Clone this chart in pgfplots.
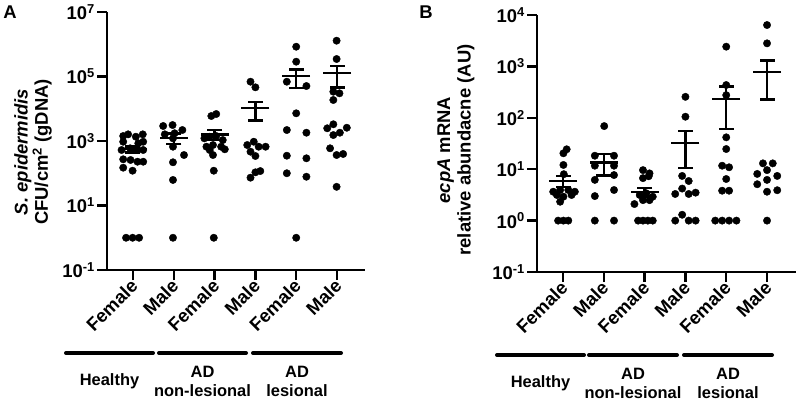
\documentclass[border=0pt]{standalone}
\usepackage{fontspec}
\setmainfont{Liberation Sans}
\usepackage{pgfplots}
\usepackage{pgfplotstable}
\pgfplotsset{compat=1.18}
\newcommand\tl{\fontsize{18.5}{18.5}\selectfont\bfseries}

% Panel A: individual points (x = category index + jitter)
\pgfplotstableread{
x y
-0.24 1430
-0.12 1610
0.07 1360
0.24 1610
0.25 950
-0.24 950
0.13 849
-0.28 526
-0.07 594
0.09 553
0.25 526
-0.24 271
-0.06 258
0.11 228
0.25 228
-0.24 149
-0.01 120
-0.17 1
-0.01 1
0.15 1
0.74 2920
0.97 3130
1.21 2190
0.78 1610
1.02 1740
0.98 1210
0.98 666
1.25 368
0.98 219
0.98 62
0.98 1
1.92 5960
2.04 6870
1.75 1210
1.88 1360
2.04 1430
2.20 1070
1.80 666
1.96 751
2.16 666
1.88 526
2.25 553
1.96 368
1.98 120
1.98 1
2.88 69000
3.00 46200
2.80 751
2.96 950
3.08 666
3.25 666
2.88 466
3.00 343
3.12 117
3.00 107
2.88 73
4.00 839000
4.00 288000
3.77 69000
4.25 50700
4.00 7230
3.77 2190
4.25 1810
3.77 350
4.25 291
3.77 100
4.25 78
4.00 1
4.99 1290000
4.99 349000
4.91 33800
5.06 30100
4.91 18700
4.76 2480
4.91 3300
5.07 1810
5.24 2580
4.91 1530
4.83 594
4.99 368
5.15 396
4.99 38
}\dataA

% Panel A: mean, SEM low, SEM high
\pgfplotstableread{
x m lo hi
0 560 440 680
1 1260 810 1710
2 1600 1050 2150
3 10300 4300 16300
4 104000 44000 164000
5 131000 46000 216000
}\meanA
\pgfplotstableread{
x y
0 440
0 680
nan nan
1 810
1 1710
nan nan
2 1050
2 2150
nan nan
3 4300
3 16300
nan nan
4 44000
4 164000
nan nan
5 46000
5 216000
}\semA

% Panel B: individual points
\pgfplotstableread{
x y
0.09 24.4
0.01 20.4
0.01 12.1
0.02 8
-0.07 3.94
0.13 3.94
-0.24 3.65
0.29 3.65
-0.15 3.15
0.21 3.15
0.01 2.92
-0.07 2.33
-0.12 1
0.01 1
0.13 1
1.01 69
0.78 18.3
1.25 18.3
0.78 11.7
1.25 11.7
0.78 6.2
1.25 7.7
0.78 3.0
1.25 3.94
0.78 1
1.25 1
1.96 9.6
2.12 8.3
1.96 6.7
2.10 7.3
1.88 3.15
2.04 3.4
2.20 2.92
1.96 2.5
2.12 2.5
1.75 2.1
1.84 1
1.96 1
2.08 1
2.20 1
3.00 256
3.00 105
2.92 7.4
3.08 5.9
2.92 4.2
2.75 3.3
3.08 3.3
3.25 3.5
2.92 1.3
2.75 1
3.08 1
3.25 1
4.00 2420
4.00 434
4.00 276
4.00 41.7
4.00 24.7
3.90 11.7
4.07 10.9
4.00 6.45
3.90 3.82
4.07 3.82
3.73 1
3.90 1
4.07 1
4.25 1
5.00 6380
5.00 2810
4.90 13
5.14 13
4.76 8.1
5.00 9.6
5.25 7.4
5.00 6.2
4.76 5.1
5.25 3.9
5.00 3.65
5.00 1
}\dataB

% Panel B: mean, SEM low, SEM high
\pgfplotstableread{
x m lo hi
0 5.9 4.5 7.3
1 13.5 7.5 19.5
2 3.6 2.95 4.25
3 32.7 10.7 54.7
4 232 60 404
5 767 227 1307
}\meanB
\pgfplotstableread{
x y
0 4.5
0 7.3
nan nan
1 7.5
1 19.5
nan nan
2 2.95
2 4.25
nan nan
3 10.7
3 54.7
nan nan
4 60
4 404
nan nan
5 227
5 1307
}\semB

\begin{document}
\begin{tikzpicture}[x=1bp,y=1bp]
\path[use as bounding box] (0,0) rectangle (797,-401);

% ---------------- Panel A ----------------
\begin{axis}[
  scale only axis,
  at={(107bp,-270bp)}, anchor=south west,
  width=258bp, height=258bp,
  ymode=log,
  axis x line*=bottom,
  axis y line*=left,
  axis line style={line width=2.3bp},
  tick align=outside,
  major tick length=10bp,
  tick style={line width=2.3bp, black},
  yminorticks=false,
  xtick={0,1,2,3,4,5},
  xticklabels={\tl Female,\tl Male,\tl Female,\tl Male,\tl Female,\tl Male},
  xticklabel style={rotate=45, anchor=east, inner sep=2bp, yshift=-3bp, xshift=1bp},
  yticklabel style={inner sep=2bp},
  unbounded coords=jump,
  clip=false,
  xmin=-0.637, xmax=5.686,
  ymin=0.1, ymax=1e7,
  ytick={0.1,10,1000,100000,10000000},
  yticklabels={\tl 10\textsuperscript{-1},\tl 10\textsuperscript{1},\tl 10\textsuperscript{3},\tl 10\textsuperscript{5},\tl 10\textsuperscript{7}},
]
\addplot[only marks, mark=*, mark size=3.7bp, black] table[x=x,y=y]{\dataA};
\addplot[only marks, mark=-, mark size=14bp, black, mark options={line width=2.3bp}] table[x=x,y=m]{\meanA};
\addplot[only marks, mark=-, mark size=7.5bp, black, mark options={line width=2.3bp}] table[x=x,y=lo]{\meanA};
\addplot[only marks, mark=-, mark size=7.5bp, black, mark options={line width=2.3bp}] table[x=x,y=hi]{\meanA};
\addplot[black, line width=2.3bp, mark=none] table[x=x,y=y]{\semA};
\end{axis}

% ---------------- Panel B ----------------
\begin{axis}[
  scale only axis,
  at={(537bp,-272bp)}, anchor=south west,
  width=259bp, height=257bp,
  ymode=log,
  axis x line*=bottom,
  axis y line*=left,
  axis line style={line width=2.3bp},
  tick align=outside,
  major tick length=10bp,
  tick style={line width=2.3bp, black},
  yminorticks=false,
  xtick={0,1,2,3,4,5},
  xticklabels={\tl Female,\tl Male,\tl Female,\tl Male,\tl Female,\tl Male},
  xticklabel style={rotate=45, anchor=east, inner sep=2bp, yshift=-3bp, xshift=1bp},
  yticklabel style={inner sep=2bp},
  unbounded coords=jump,
  clip=false,
  xmin=-0.637, xmax=5.71,
  ymin=0.1, ymax=1e4,
  ytick={0.1,1,10,100,1000,10000},
  yticklabels={\tl 10\textsuperscript{-1},\tl 10\textsuperscript{0},\tl 10\textsuperscript{1},\tl 10\textsuperscript{2},\tl 10\textsuperscript{3},\tl 10\textsuperscript{4}},
]
\addplot[only marks, mark=*, mark size=3.7bp, black] table[x=x,y=y]{\dataB};
\addplot[only marks, mark=-, mark size=14bp, black, mark options={line width=2.3bp}] table[x=x,y=m]{\meanB};
\addplot[only marks, mark=-, mark size=7.5bp, black, mark options={line width=2.3bp}] table[x=x,y=lo]{\meanB};
\addplot[only marks, mark=-, mark size=7.5bp, black, mark options={line width=2.3bp}] table[x=x,y=hi]{\meanB};
\addplot[black, line width=2.3bp, mark=none] table[x=x,y=y]{\semB};
\end{axis}

% panel letters
\node[font=\fontsize{18.5}{18.5}\selectfont\bfseries] at (10,-12) {A};
\node[font=\fontsize{18.5}{18.5}\selectfont\bfseries] at (426,-12) {B};

% axis titles
\node[rotate=90, align=center, font=\fontsize{18.5}{20.5}\selectfont\bfseries] at (33,-152)
  {\textit{S. epidermidis}\\CFU/cm\textsuperscript{2} (gDNA)};
\node[rotate=90, align=center, font=\fontsize{18.5}{20.5}\selectfont\bfseries] at (456,-150)
  {\textit{ecpA} mRNA\\relative abundacne (AU)};

% group brackets
\begin{scope}[line width=4bp, line cap=round]
\draw (66,-353) -- (153,-353);
\draw (159,-353) -- (246,-353);
\draw (253,-353) -- (341,-353);
\draw (497,-355) -- (584,-355);
\draw (589,-355) -- (677,-355);
\draw (684,-355) -- (772,-355);
\end{scope}
\begin{scope}[every node/.style={align=center, font=\fontsize{16.5}{19}\selectfont\bfseries}]
\node at (109.5,-381) {Healthy};
\node at (202.5,-381) {AD\\non-lesional};
\node at (297,-381) {AD\\lesional};
\node at (540.5,-383) {Healthy};
\node at (633,-383) {AD\\non-lesional};
\node at (728,-383) {AD\\lesional};
\end{scope}
\end{tikzpicture}
\end{document}
